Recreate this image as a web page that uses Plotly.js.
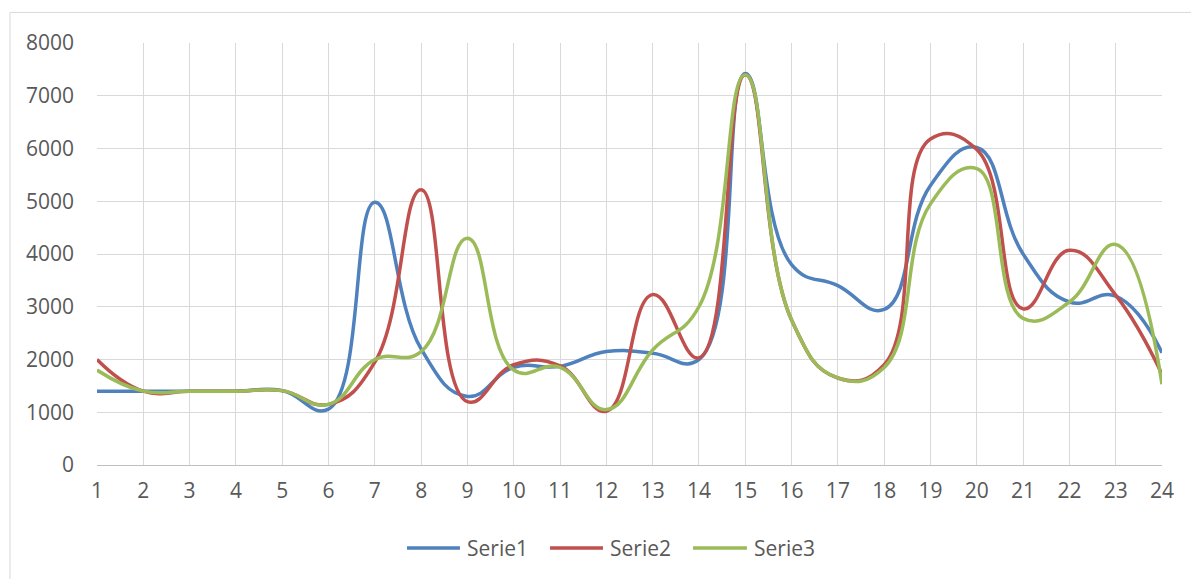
<!DOCTYPE html>
<html>
<head>
<meta charset="utf-8">
<script src="https://cdn.plot.ly/plotly-3.0.1.min.js"></script>
<style>
html,body{margin:0;padding:0;background:#fff;}
#chart{width:1191px;height:579px;}
</style>
</head>
<body>
<div id="chart"></div>
<script>
const categories = [1,2,3,4,5,6,7,8,9,10,11,12,13,14,15,16,17,18,19,20,21,22,23,24];
const serie1 = [1400,1400,1400,1400,1410,1060,4980,2200,1300,1850,1870,2150,2120,2000,7420,3800,3400,2950,5300,6020,4000,3090,3200,2130];
const serie2 = [2000,1400,1400,1400,1410,1150,1950,5220,1200,1900,1880,1020,3230,2030,7400,2750,1650,1900,6180,5980,2960,4070,3220,1720];
const serie3 = [1800,1400,1400,1400,1410,1150,2000,2150,4300,1800,1850,1050,2180,3000,7400,2750,1650,1850,4950,5620,2780,3090,4180,1530];
const seriesNames = ['Serie1','Serie2','Serie3'];
const seriesColors = ['#4F81BD','#C0504D','#9BBB59'];
const yTicks = [0,1000,2000,3000,4000,5000,6000,7000,8000];

const allSeries = [serie1, serie2, serie3];
const traces = allSeries.map((s, i) => ({
  x: categories,
  y: s,
  type: 'scatter',
  mode: 'lines',
  name: seriesNames[i],
  showlegend: false,
  line: {color: seriesColors[i], width: 3.5, shape: 'spline', smoothing: 1.3}
}));

// legend drawn as paper-positioned samples + text labels
const legendY = -0.1967;
const legendLineX = [[0.2911, 0.3408], [0.4254, 0.4751], [0.5596, 0.6103]];
const legendShapes = legendLineX.map((lx, i) => ({
  type: 'line', xref: 'paper', yref: 'paper',
  x0: lx[0], x1: lx[1], y0: legendY, y1: legendY,
  line: {color: seriesColors[i], width: 3.5}
}));
const legendAnnots = legendLineX.map((lx, i) => ({
  xref: 'paper', yref: 'paper',
  x: lx[1] + 0.0047, y: legendY,
  xanchor: 'left', yanchor: 'middle',
  text: seriesNames[i], showarrow: false,
  font: {size: 21, color: '#595959'}
}));

const layout = {
  width: 1191,
  height: 579,
  margin: {l: 97, r: 29, t: 43, b: 114},
  paper_bgcolor: '#ffffff',
  plot_bgcolor: '#ffffff',
  font: {family: 'Open Sans, sans-serif', size: 21, color: '#595959'},
  showlegend: false,
  xaxis: {
    range: [1, 24],
    tickmode: 'array',
    tickvals: categories,
    ticktext: categories.map(String),
    showgrid: true,
    gridcolor: '#d9d9d9',
    gridwidth: 1,
    showline: true,
    linecolor: '#bfbfbf',
    linewidth: 1,
    zeroline: false,
    ticks: '',
    ticklabelstandoff: 7,
    fixedrange: true
  },
  yaxis: {
    range: [0, 8000],
    tickmode: 'array',
    tickvals: yTicks,
    ticktext: yTicks.map(String),
    showgrid: true,
    gridcolor: '#d9d9d9',
    gridwidth: 1,
    showline: false,
    zeroline: false,
    ticks: '',
    ticklabelstandoff: 22,
    fixedrange: true
  },
  shapes: [{
    type: 'rect', xref: 'paper', yref: 'paper',
    x0: -0.0817, x1: 1.2, y0: -0.5, y1: 1.0724,
    line: {color: '#d9d9d9', width: 1},
    fillcolor: 'rgba(0,0,0,0)',
    layer: 'below'
  }].concat(legendShapes),
  annotations: legendAnnots
};

Plotly.newPlot('chart', traces, layout, {displayModeBar: false, staticPlot: true});
</script>
</body>
</html>
